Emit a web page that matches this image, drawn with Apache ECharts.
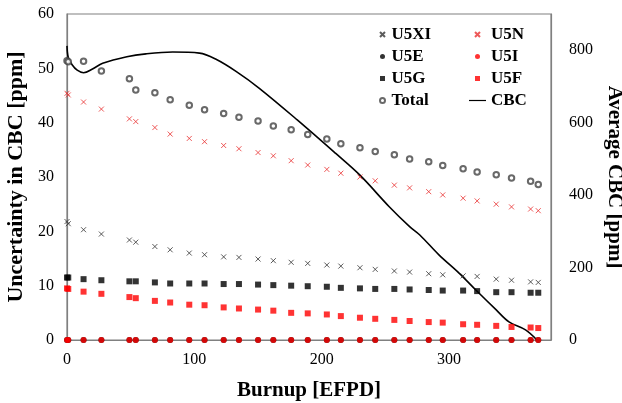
<!DOCTYPE html>
<html>
<head>
<meta charset="utf-8">
<script src="https://cdn.jsdelivr.net/npm/echarts@6/dist/echarts.min.js"></script>
<style>
  html, body { margin: 0; padding: 0; background: #fff; }
  #chart { width: 622px; height: 403px; }
</style>
</head>
<body>
<div id="chart"></div>
<script>
// Burnup points (EFPD) shared by the uncertainty series
const burnup = [0, 1, 13, 27, 49, 54, 69, 81, 96, 108, 123, 135, 150, 162, 176, 189, 204, 215, 230, 242, 257, 269, 284, 295, 311, 322, 337, 349, 364, 370];

// Uncertainty in CBC [ppm]
const u5xi = [21.8, 21.4, 20.3, 19.5, 18.4, 18.0, 17.2, 16.6, 16.0, 15.7, 15.3, 15.2, 14.9, 14.6, 14.3, 14.1, 13.8, 13.6, 13.3, 13.0, 12.7, 12.5, 12.2, 12.0, 11.8, 11.7, 11.2, 11.0, 10.7, 10.6];
const u5n = [45.4, 45.1, 43.8, 42.5, 40.7, 40.2, 39.1, 37.9, 37.1, 36.5, 35.8, 35.2, 34.5, 33.9, 33.0, 32.2, 31.4, 30.7, 30.0, 29.3, 28.5, 28.0, 27.3, 26.7, 26.1, 25.6, 25.0, 24.5, 24.1, 23.8];
const u5e = [0, 0, 0, 0, 0, 0, 0, 0, 0, 0, 0, 0, 0, 0, 0, 0, 0, 0, 0, 0, 0, 0, 0, 0, 0, 0, 0, 0, 0, 0];
const u5i = [0, 0, 0, 0, 0, 0, 0, 0, 0, 0, 0, 0, 0, 0, 0, 0, 0, 0, 0, 0, 0, 0, 0, 0, 0, 0, 0, 0, 0, 0];
const u5g = [11.5, 11.5, 11.2, 11.0, 10.8, 10.8, 10.6, 10.4, 10.4, 10.4, 10.3, 10.3, 10.2, 10.1, 10.0, 9.9, 9.8, 9.6, 9.5, 9.4, 9.4, 9.3, 9.2, 9.1, 9.1, 9.0, 8.8, 8.8, 8.7, 8.7];
const u5f = [9.5, 9.4, 8.9, 8.5, 7.9, 7.7, 7.2, 6.9, 6.5, 6.4, 6.0, 5.8, 5.6, 5.4, 5.0, 4.9, 4.7, 4.4, 4.1, 3.9, 3.7, 3.5, 3.3, 3.2, 2.9, 2.8, 2.6, 2.4, 2.3, 2.2];
const total = [51.4, 51.2, 51.3, 49.5, 48.1, 46.0, 45.5, 44.2, 43.2, 42.4, 41.7, 41.0, 40.3, 39.4, 38.7, 37.8, 37.0, 36.1, 35.4, 34.7, 34.1, 33.3, 32.8, 32.1, 31.5, 30.9, 30.4, 29.8, 29.2, 28.6];

// Average CBC [ppm] curve
const cbcBurnup = [0, 1, 4, 8, 13, 20, 28, 47, 62, 83, 104, 117, 133, 151, 181, 211, 230, 253, 269, 277, 292, 308, 321, 337, 347, 360, 369];
const cbcValue = [812, 780, 760, 745, 738, 748, 764, 782, 790, 795, 792, 775, 741, 695, 607, 515, 455, 368, 313, 290, 235, 184, 138, 83, 50, 28, 0];

const xTicks = { min: 0, max: 380, interval: 100 };
const yLeftTicks = { min: 0, max: 60, interval: 10 };
const yRightTicks = { min: 0, max: 900, interval: 200 };

const font = 'Liberation Serif';
const crossPath = 'path://M0,0L10,10M10,0L0,10';
const squarePath = 'path://M0,0H10V10H0Z';
const dashPath = 'path://M0,0H20V1.4H0Z';

const pair = (xs, ys) => xs.map((x, i) => [x, ys[i]]);

function scatter(name, data, symbol, color, size, extra) {
    return Object.assign({
        name: name,
        type: 'scatter',
        data: pair(burnup, data),
        symbol: symbol,
        symbolSize: size,
        itemStyle: { color: color },
        yAxisIndex: 0,
        z: 3
    }, extra || {});
}

const chart = echarts.init(document.getElementById('chart'));

const legendText = { fontFamily: font, fontWeight: 'bold', fontSize: 17, color: '#000' };
const axisGrey = '#808080';

// grey frame round the plot, like the spreadsheet original
function frameLine() {
    return { show: true, onZero: false, lineStyle: { color: axisGrey, width: 1.2 } };
}

const option = {
    animation: false,
    grid: {
        left: 67, right: 71, top: 14, bottom: 63,
        outerBoundsMode: 'none',
        show: true, borderColor: axisGrey, borderWidth: 1.2
    },
    legend: [
        {
            orient: 'vertical', left: 374, top: 21,
            itemWidth: 8, itemHeight: 5, itemGap: 5,
            textStyle: legendText,
            data: [
                { name: 'U5XI', icon: crossPath },
                { name: 'U5E', icon: 'circle' },
                { name: 'U5G', icon: squarePath },
                { name: 'Total', icon: 'emptyCircle' }
            ]
        },
        {
            orient: 'vertical', left: 464, top: 21,
            itemWidth: 17, itemHeight: 5, itemGap: 5,
            textStyle: legendText,
            data: [
                { name: 'U5N', icon: crossPath },
                { name: 'U5I', icon: 'circle' },
                { name: 'U5F', icon: squarePath },
                { name: 'CBC', icon: dashPath }
            ]
        }
    ],
    xAxis: {
        type: 'value',
        min: xTicks.min, max: xTicks.max, interval: xTicks.interval,
        name: 'Burnup [EFPD]',
        nameLocation: 'middle', nameGap: 40,
        nameTextStyle: { fontFamily: font, fontWeight: 'bold', fontSize: 21, color: '#000' },
        axisLine: frameLine(),
        axisTick: { show: false },
        splitLine: { show: false },
        axisLabel: { fontFamily: font, fontSize: 16, color: '#000', margin: 12, showMaxLabel: false }
    },
    yAxis: [
        {
            type: 'value',
            min: yLeftTicks.min, max: yLeftTicks.max, interval: yLeftTicks.interval,
            name: 'Uncertainty in CBC [ppm]',
            nameLocation: 'middle', nameGap: 32,
            nameTextStyle: { fontFamily: font, fontWeight: 'bold', fontSize: 22, color: '#000' },
            axisLine: frameLine(),
            axisTick: { show: false },
            splitLine: { show: false },
            axisLabel: { fontFamily: font, fontSize: 16, color: '#000', margin: 13 }
        },
        {
            type: 'value',
            position: 'right',
            min: yRightTicks.min, max: yRightTicks.max, interval: yRightTicks.interval,
            name: 'Average CBC [ppm]',
            nameLocation: 'middle', nameGap: 49, nameRotate: -90,
            nameTextStyle: { fontFamily: font, fontWeight: 'bold', fontSize: 21, color: '#000' },
            axisLine: frameLine(),
            axisTick: { show: false },
            splitLine: { show: false },
            axisLabel: { fontFamily: font, fontSize: 16, color: '#000', margin: 18, showMaxLabel: false }
        }
    ],
    series: [
        scatter('U5XI', u5xi, crossPath, '#000', 5, {
            itemStyle: { color: '#000', borderColor: '#333', borderWidth: 1 }
        }),
        scatter('U5E', u5e, 'circle', '#000', 6),
        scatter('U5G', u5g, 'rect', '#000', 6),
        scatter('Total', total, 'emptyCircle', '#444', 5.5, {
            itemStyle: { color: '#444', borderWidth: 0.8 }
        }),
        scatter('U5N', u5n, crossPath, '#e83030', 5, {
            itemStyle: { color: '#e83030', borderColor: '#e83030', borderWidth: 1 }
        }),
        scatter('U5I', u5i, 'circle', '#ff0000', 6, { z: 4 }),
        scatter('U5F', u5f, 'rect', '#ff0000', 6),
        {
            name: 'CBC',
            type: 'line',
            yAxisIndex: 1,
            data: pair(cbcBurnup, cbcValue),
            symbol: 'none',
            smooth: 0.35,
            lineStyle: { color: '#000', width: 1.6 },
            itemStyle: { color: '#000' },
            z: 2
        }
    ]
};

chart.setOption(option);
</script>
</body>
</html>
